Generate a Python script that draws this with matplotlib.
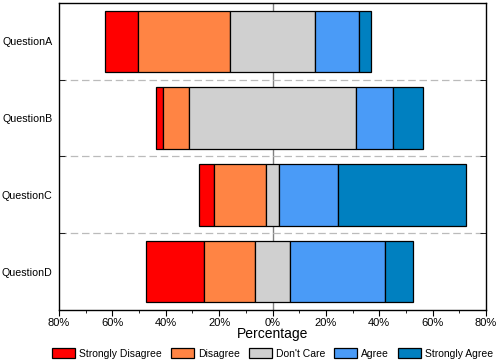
import matplotlib.pyplot as plt
import numpy as np

plt.rcParams['font.family'] = ['Liberation Sans', 'DejaVu Sans']

# data (percent of answers per question)
questions = ['QuestionA', 'QuestionB', 'QuestionC', 'QuestionD']
answers = ['Strongly Disagree', 'Disagree', "Don't Care", 'Agree', 'Strongly Agree']
strongly_disagree = [12.4, 2.6, 5.6, 21.7]
disagree = [34.3, 9.7, 19.5, 19.0]
dont_care = [32.2, 62.5, 4.8, 13.3]
agree = [16.2, 13.9, 22.1, 35.6]
strongly_agree = [4.7, 11.2, 48.0, 10.4]
xticks = [-80, -60, -40, -20, 0, 20, 40, 60, 80]

colors = ['#FF0000', '#FF8444', '#D0D0D0', '#4A9BF7', '#0080C0']

sd = np.array(strongly_disagree)
d = np.array(disagree)
dc = np.array(dont_care)
a = np.array(agree)
sa = np.array(strongly_agree)

# diverging: don't care is centred on zero
start = -(sd + d + dc / 2)
series = [sd, d, dc, a, sa]

fig = plt.figure(figsize=(5, 3.63), dpi=100)
ax = fig.add_axes([0.118, 0.146, 0.854, 0.846])

y = np.arange(len(questions))
left = start.copy()
for vals, name, c in zip(series, answers, colors):
    ax.barh(y, vals, left=left, height=0.8, color=c, edgecolor='black',
            linewidth=0.9, label=name, zorder=3)
    left = left + vals

ax.axvline(0, color='#808080', linewidth=1, zorder=1)
for b in np.arange(0.5, len(questions) - 0.5):
    ax.axhline(b, color='#BBBBBB', linewidth=0.9, linestyle=(0, (6, 3)), zorder=1)

ax.set_xlim(-80, 80)
ax.set_ylim(len(questions) - 0.5, -0.5)
ax.set_xticks(xticks)
ax.set_xticklabels(['%d%%' % abs(t) for t in xticks])
ax.set_xticks(np.arange(-70, 80, 20), minor=True)
ax.tick_params(axis='x', which='major', direction='out', length=4, labelsize=8, pad=2)
ax.tick_params(axis='x', which='minor', direction='out', length=2.5)

ax.set_yticks(y)
ax.set_yticklabels(questions)
ax.set_yticks(np.arange(0.5, len(questions) - 0.5), minor=True)
ax.tick_params(axis='y', which='major', length=0, labelsize=7.7, pad=4.5)
ax.tick_params(axis='y', which='minor', direction='in', length=4, left=True, right=True)

for s in ax.spines.values():
    s.set_linewidth(1)

ax.set_xlabel('Percentage', fontsize=10, labelpad=-1)
ax.legend(loc='upper center', bbox_to_anchor=(0.5, -0.11), ncol=5, frameon=False,
          fontsize=7.5, handlelength=2.2, handleheight=1.15, handletextpad=0.4,
          columnspacing=0.85, borderaxespad=0)

fig.savefig('out.png', dpi=100)
